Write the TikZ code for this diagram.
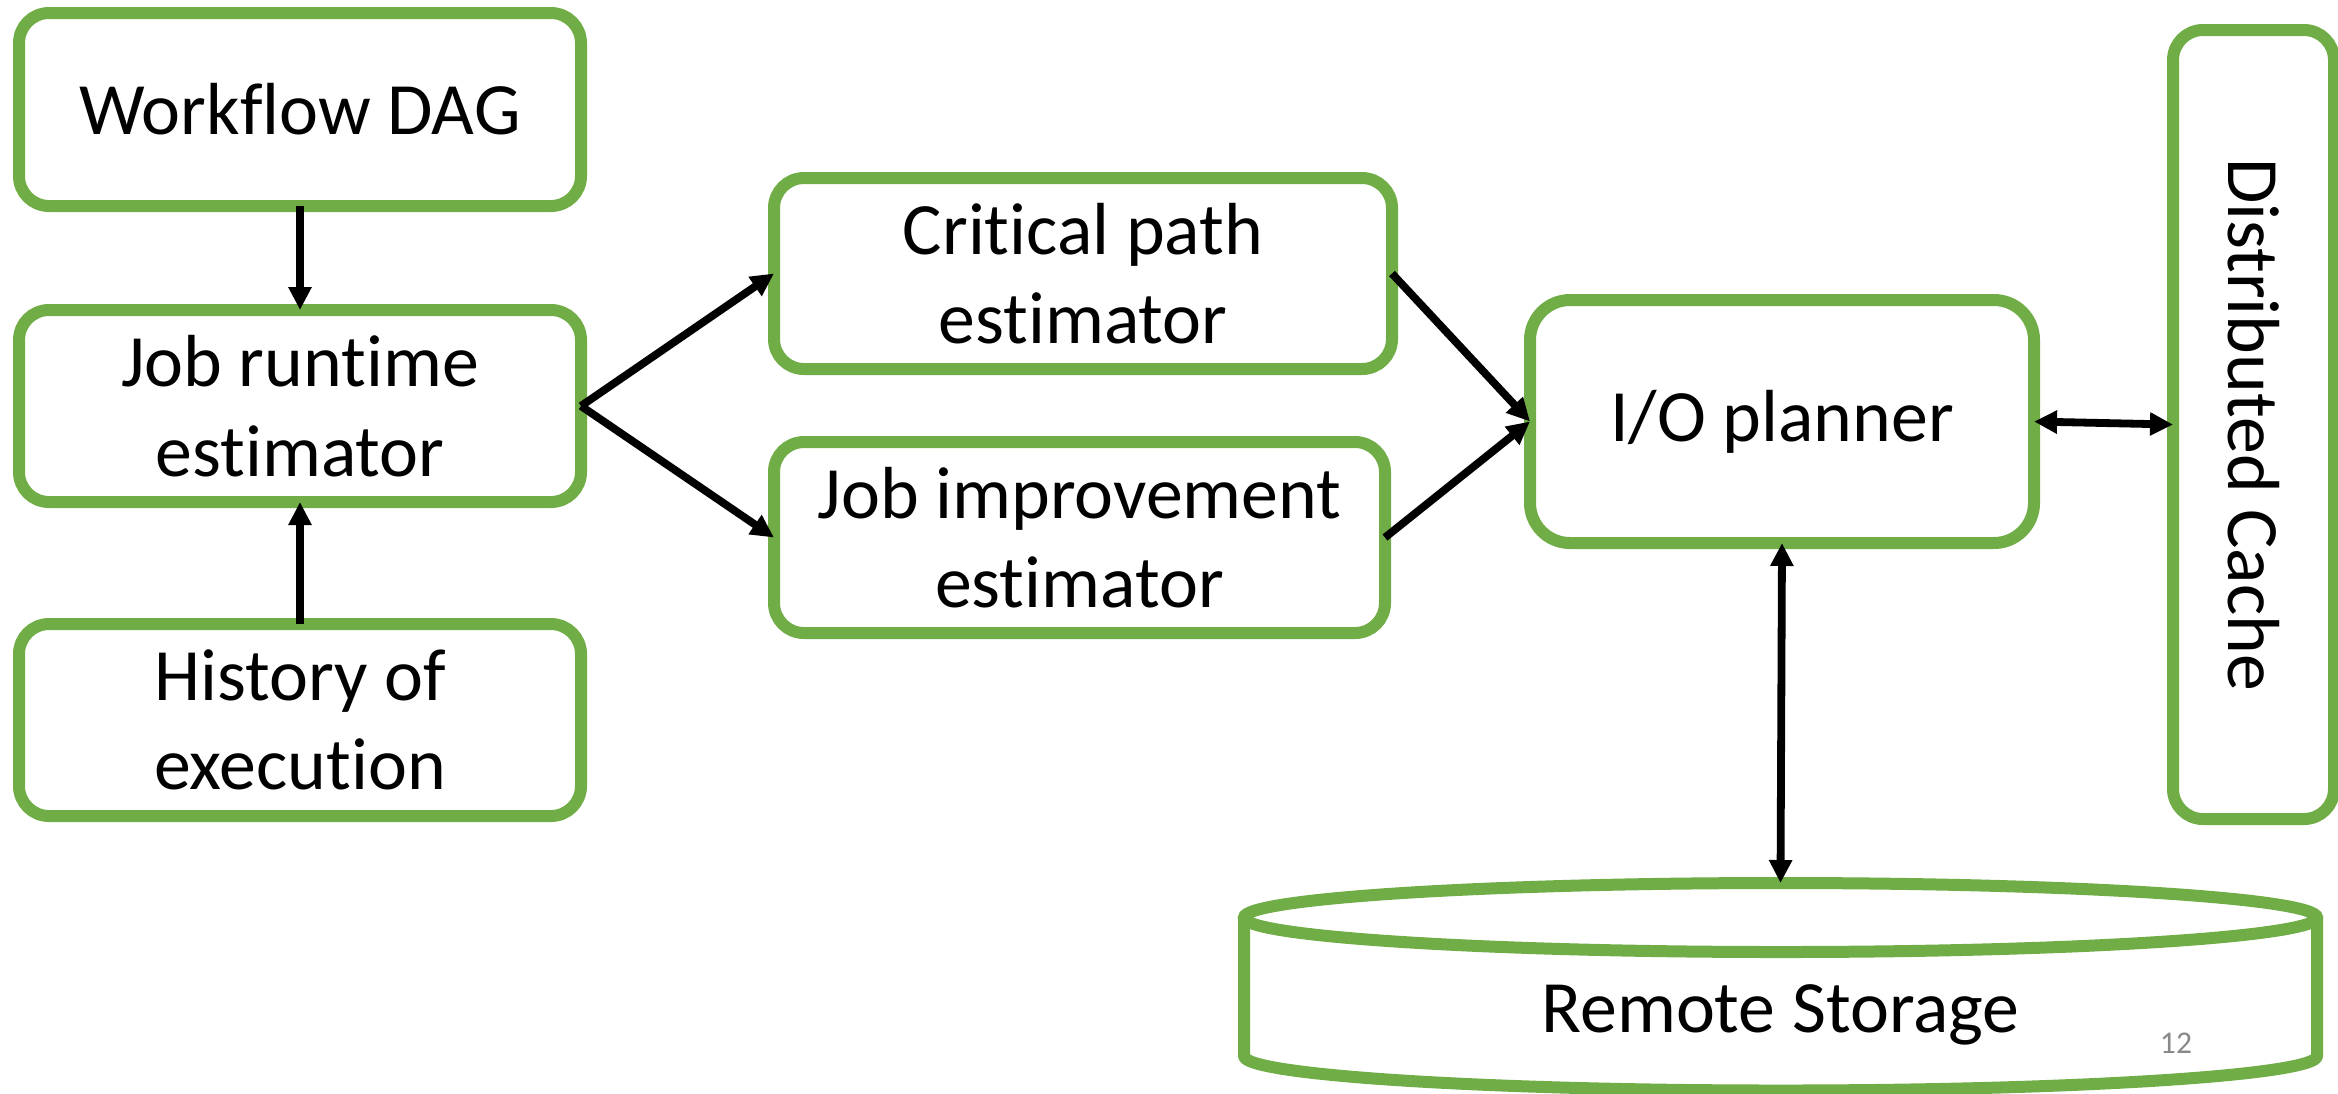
\documentclass[tikz,border=0pt]{standalone}
\usepackage{fontspec}
\usepackage{graphicx}
\setmainfont{Carlito}[Ligatures={NoCommon}]
\usetikzlibrary{arrows.meta}
\definecolor{boxgreen}{HTML}{70AD47}
\definecolor{pagegray}{HTML}{898989}
\begin{document}
\begin{tikzpicture}[
  x=1cm, y=1cm,
  box/.style={draw=boxgreen, line width=0.12cm, rounded corners=0.3cm,
    outer sep=0pt, inner sep=0pt, align=center,
    font=\fontsize{21}{25.5}\selectfont},
  link/.style={line width=0.078cm, draw=black,
    -{Triangle[length=0.23cm, width=0.22cm]}},
  duplex/.style={line width=0.078cm, draw=black,
    {Triangle[length=0.23cm, width=0.22cm]}-{Triangle[length=0.23cm, width=0.22cm]}},
]
\useasboundingbox (0,0) rectangle (23.38,-10.93);

% left column
\node[box, minimum width=5.62cm, minimum height=1.93cm] (wf) at (3.00,-1.095) {\raisebox{-0.04cm}{Workflow DAG}};
\node[box, minimum width=5.62cm, minimum height=1.92cm] (jre) at (3.00,-4.06) {Job runtime\\estimator};
\node[box, minimum width=5.62cm, minimum height=1.92cm] (hist) at (3.00,-7.20) {History of\\execution};

% estimators
\node[box, minimum width=6.18cm, minimum height=1.91cm] (crit) at (10.83,-2.735) {Critical path\\estimator};
\node[box, minimum width=6.11cm, minimum height=1.91cm] (jimp) at (10.795,-5.375) {Job improvement\\estimator};

% planner and cache
\node[box, rounded corners=0.4cm, minimum width=5.04cm, minimum height=2.43cm] (io) at (17.82,-4.215) {\raisebox{-0.03cm}{I/O planner}};
\node[box, minimum width=1.61cm, minimum height=7.89cm] (cache) at (22.535,-4.245) {\rotatebox{-90}{Distributed Cache}};

% remote storage cylinder
\draw[boxgreen, line width=0.12cm]
  (17.805,-9.175) ellipse [x radius=5.365, y radius=0.345];
\draw[boxgreen, line width=0.12cm, line join=round]
  (12.44,-9.175) -- (12.44,-10.56)
  arc[start angle=180, end angle=360, x radius=5.365, y radius=0.345]
  -- (23.17,-9.175);
\coordinate (sttop) at (17.805,-8.83);
\node[anchor=base, font=\fontsize{21}{25.5}\selectfont] (stlabel) at (17.805,-10.32) {Remote Storage};

% page number
\node[anchor=base, text=pagegray, font=\fontsize{9}{11}\selectfont] (pageno) at (21.76,-10.53) {12};

% connectors
\draw[link] (wf.south) -- (jre.north);
\draw[link] (hist.north) -- (jre.south);
\draw[link] (jre.east) -- (crit.west);
\draw[link] (jre.east) -- (jimp.west);
\draw[link] (crit.east) -- (io.west);
\draw[link] (jimp.east) -- (io.west);
\draw[duplex] (io.east) -- (cache.west);
\draw[duplex] (io.south) -- (sttop);
\end{tikzpicture}
\end{document}
